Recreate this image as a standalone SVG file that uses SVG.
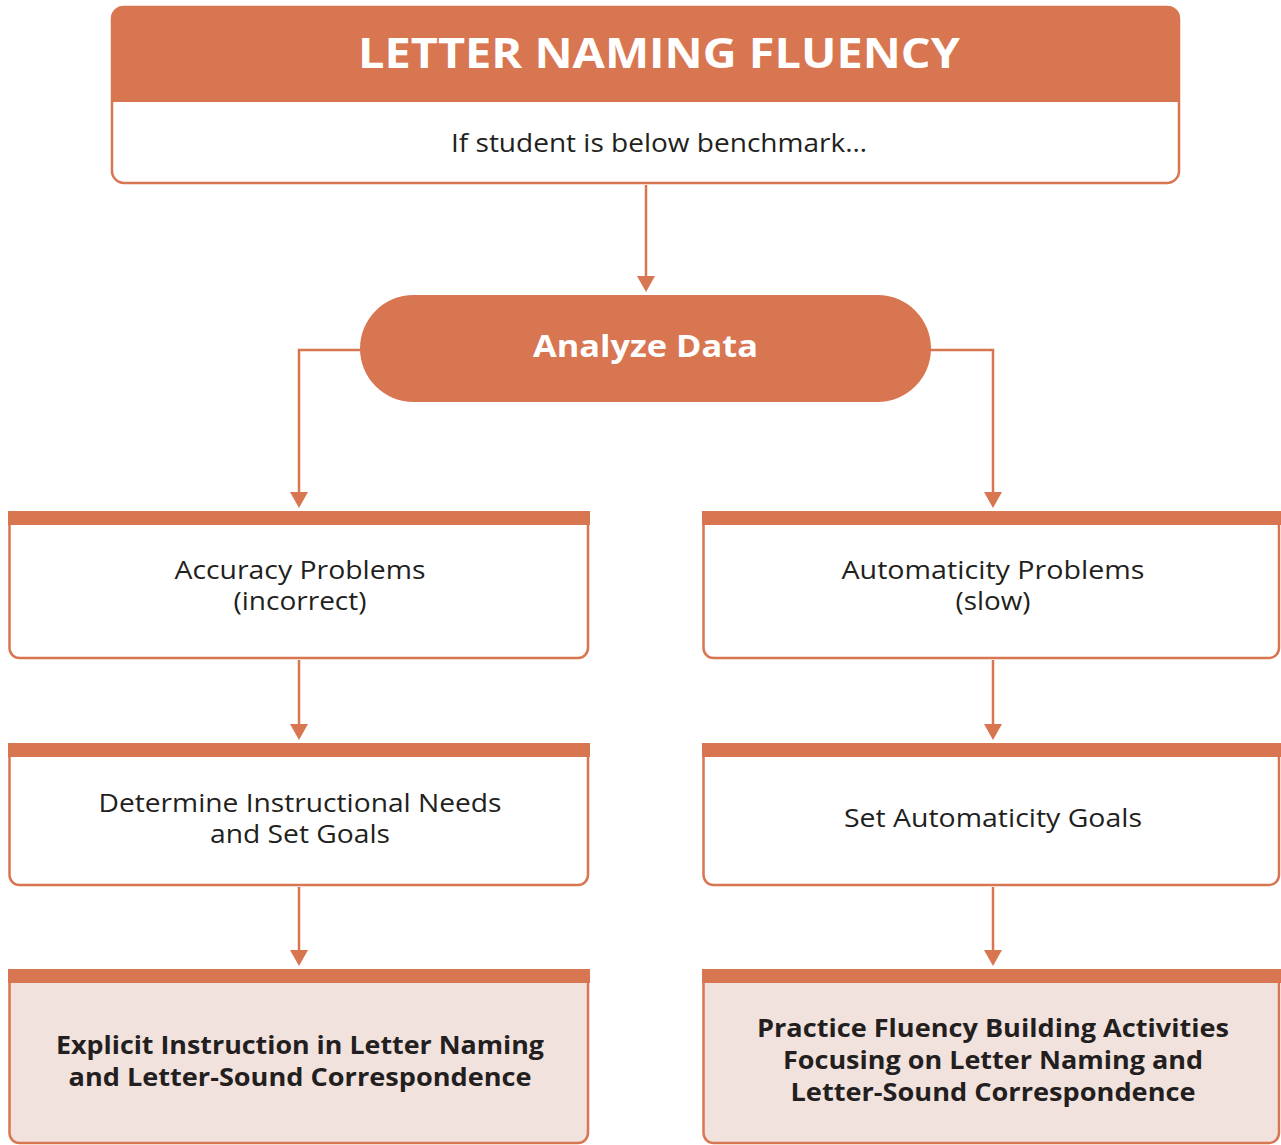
<svg xmlns="http://www.w3.org/2000/svg" width="1281" height="1145" viewBox="0 0 1281 1145">
<style>
.or{fill:#D87651}
.box{fill:#FFFFFF;stroke:#D87651;stroke-width:2.5}
.pink{fill:#F2E2DE;stroke:#D87651;stroke-width:2.5}
.t{font-family:"Open Sans","Liberation Sans",sans-serif;font-size:25px;fill:#231F20;text-anchor:middle}
.b{font-weight:700}
.w{fill:#FFFFFF}
.con{fill:none;stroke:#D87651;stroke-width:2.5}
</style>
<g id="connectors">
<path class="con" d="M646,185 V276"/>
<path d="M637,276 H655 L646,292 Z" class="or"/>
<path class="con" d="M361,350 H299 V492"/>
<path d="M290,492 H308 L299,508 Z" class="or"/>
<path class="con" d="M930,350 H993 V492"/>
<path d="M984,492 H1002 L993,508 Z" class="or"/>
<path class="con" d="M299,660 V724"/>
<path d="M290,724 H308 L299,740 Z" class="or"/>
<path class="con" d="M993,660 V724"/>
<path d="M984,724 H1002 L993,740 Z" class="or"/>
<path class="con" d="M299,887 V950"/>
<path d="M290,950 H308 L299,966 Z" class="or"/>
<path class="con" d="M993,887 V950"/>
<path d="M984,950 H1002 L993,966 Z" class="or"/>
</g>
<g id="title">
<rect class="box" x="112" y="7" width="1067" height="176" rx="12"/>
<path class="or" d="M124,6 H1168 A12,12 0 0 1 1180,18 V102 H111 V18 A12,12 0 0 1 124,6 Z"/>
<text class="t b w" x="659" y="68" style="font-size:42px" textLength="602" lengthAdjust="spacingAndGlyphs">LETTER NAMING FLUENCY</text>
<text class="t" x="659" y="152" textLength="416" lengthAdjust="spacingAndGlyphs">If student is below benchmark…</text>
</g>
<g id="analyze">
<rect class="or" x="360" y="295" width="571" height="107" rx="53.5"/>
<text class="t b w" x="645.5" y="357" style="font-size:30px" textLength="225" lengthAdjust="spacingAndGlyphs">Analyze Data</text>
</g>
<g id="accuracy">
<path class="box" d="M9.5,520 V648 A10,10 0 0 0 19.5,658 H578 A10,10 0 0 0 588,648 V520"/>
<rect class="or" x="8" y="511" width="582" height="14"/>
<text class="t" x="300" y="579" textLength="251" lengthAdjust="spacingAndGlyphs">Accuracy Problems</text>
<text class="t" x="300" y="610" textLength="133" lengthAdjust="spacingAndGlyphs">(incorrect)</text>
</g>
<g id="automaticity">
<path class="box" d="M703.5,520 V648 A10,10 0 0 0 713.5,658 H1269 A10,10 0 0 0 1279,648 V520"/>
<rect class="or" x="702" y="511" width="579" height="14"/>
<text class="t" x="993" y="579" textLength="303" lengthAdjust="spacingAndGlyphs">Automaticity Problems</text>
<text class="t" x="993" y="610" textLength="75" lengthAdjust="spacingAndGlyphs">(slow)</text>
</g>
<g id="determine">
<path class="box" d="M9.5,752 V875 A10,10 0 0 0 19.5,885 H578 A10,10 0 0 0 588,875 V752"/>
<rect class="or" x="8" y="743" width="582" height="14"/>
<text class="t" x="300" y="812" textLength="403" lengthAdjust="spacingAndGlyphs">Determine Instructional Needs</text>
<text class="t" x="300" y="843" textLength="180" lengthAdjust="spacingAndGlyphs">and Set Goals</text>
</g>
<g id="setgoals">
<path class="box" d="M703.5,752 V875 A10,10 0 0 0 713.5,885 H1269 A10,10 0 0 0 1279,875 V752"/>
<rect class="or" x="702" y="743" width="579" height="14"/>
<text class="t" x="993" y="827" textLength="298" lengthAdjust="spacingAndGlyphs">Set Automaticity Goals</text>
</g>
<g id="explicit">
<path class="pink" d="M9.5,978 V1133 A10,10 0 0 0 19.5,1143 H578 A10,10 0 0 0 588,1133 V978 Z"/>
<rect class="or" x="8" y="969" width="582" height="14"/>
<text class="t b" x="300" y="1054" textLength="488" lengthAdjust="spacingAndGlyphs">Explicit Instruction in Letter Naming</text>
<text class="t b" x="300" y="1086" textLength="463" lengthAdjust="spacingAndGlyphs">and Letter-Sound Correspondence</text>
</g>
<g id="practice">
<path class="pink" d="M703.5,978 V1133 A10,10 0 0 0 713.5,1143 H1269 A10,10 0 0 0 1279,1133 V978 Z"/>
<rect class="or" x="702" y="969" width="579" height="14"/>
<text class="t b" x="993" y="1037" textLength="472" lengthAdjust="spacingAndGlyphs">Practice Fluency Building Activities</text>
<text class="t b" x="993" y="1069" textLength="420" lengthAdjust="spacingAndGlyphs">Focusing on Letter Naming and</text>
<text class="t b" x="993" y="1101" textLength="405" lengthAdjust="spacingAndGlyphs">Letter-Sound Correspondence</text>
</g>
</svg>
